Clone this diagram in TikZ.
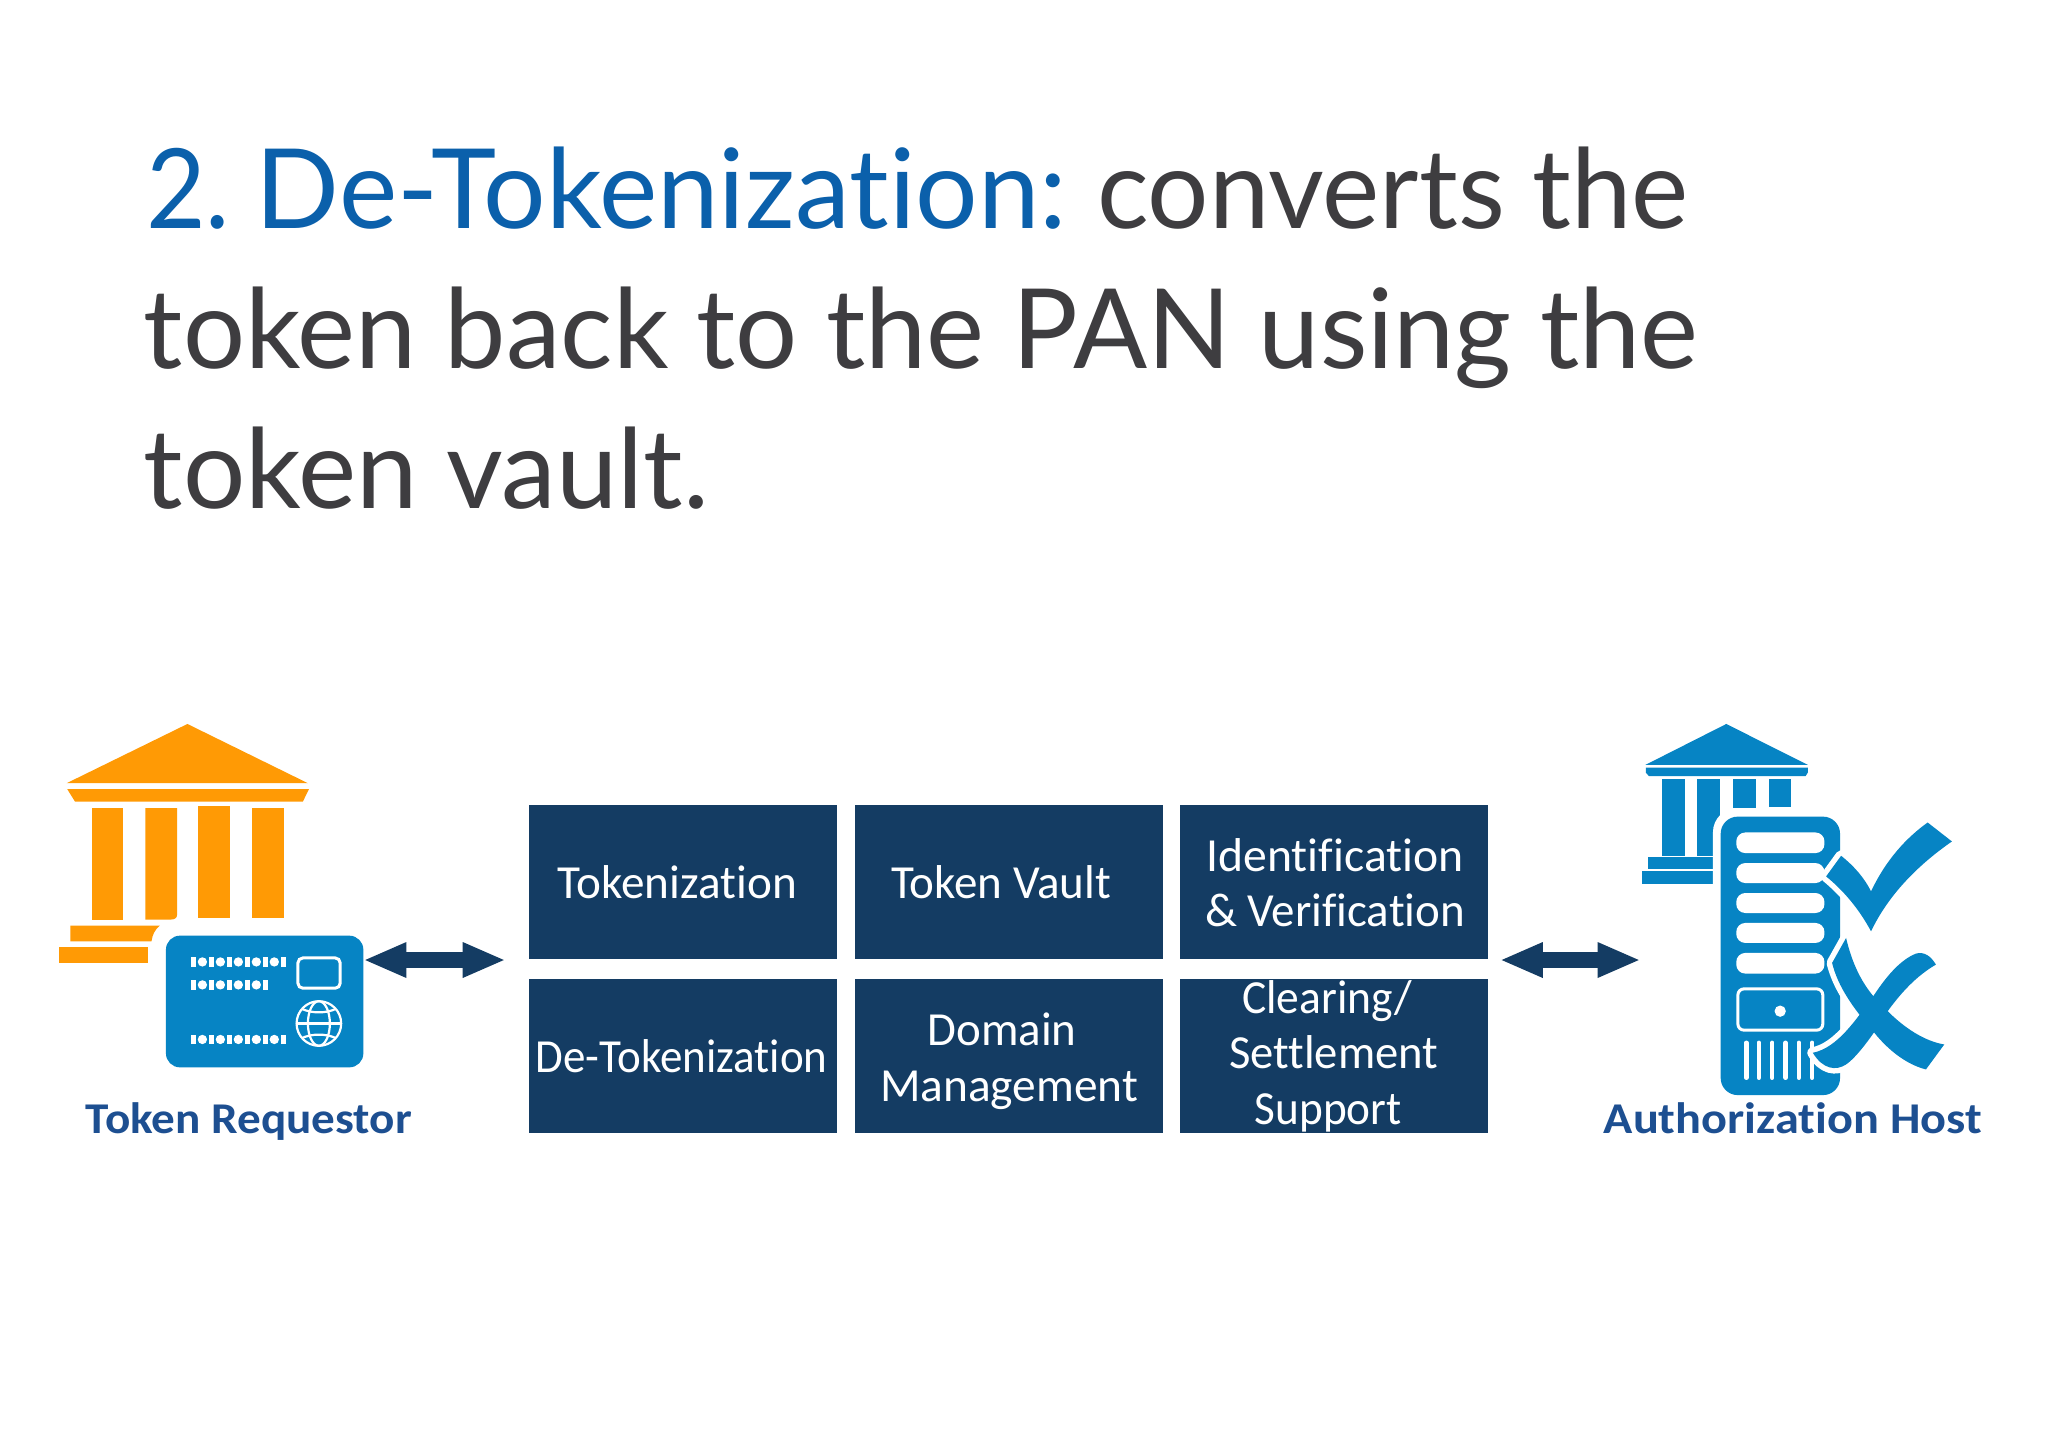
\documentclass[tikz,border=0pt]{standalone}
\usepackage{fontspec}
\usepackage{graphicx}
\usetikzlibrary{arrows.meta}
\setmainfont[Ligatures=NoCommon]{Carlito}
\newfontfamily\titlefont[Ligatures=NoCommon]{Lato}
\newlength\pxu \setlength\pxu{0.01cm}
\newcommand\fitw[2]{\resizebox{#1\pxu}{\height}{#2}}
\definecolor{orangeC}{HTML}{FF9A05}
\definecolor{cardC}{HTML}{0684C4}
\definecolor{navyC}{HTML}{143C63}
\definecolor{greyC}{HTML}{3E3D40}
\definecolor{titleBlue}{HTML}{0B60AB}
\definecolor{labelBlue}{HTML}{1D4F91}
\tikzset{
  txt/.style={anchor=base,inner sep=0pt,outer sep=0pt},
  titletext/.style={txt,font=\titlefont\fontsize{31.5pt}{31.5pt}\selectfont,text=greyC},
  titleblue/.style={titletext,text=titleBlue},
  boxtext/.style={txt,yshift=-0.018cm,font=\fontsize{13.5pt}{13.5pt}\selectfont,text=white},
  hostlabel/.style={txt,font=\bfseries\fontsize{12.5pt}{12.5pt}\selectfont,text=labelBlue},
  tbox/.style={fill=navyC,minimum width=3.074cm,minimum height=1.545cm,inner sep=0pt,outer sep=0pt},
  dbl/.style={draw=navyC,line width=0.157cm,{Triangle[length=0.43cm,width=0.323cm]}-{Triangle[length=0.43cm,width=0.323cm]}},
  iconshift/.style={x=0.0033333cm,y=-0.0033333cm},
  whiteline/.style={draw=white,line width=0.022cm},
  halo/.style={draw=white,line width=0.11cm,line join=round},
}
\begin{document}
\begin{tikzpicture}[x=0.01cm,y=-0.01cm]
\useasboundingbox (0,0) rectangle (2048,1448);
\fill[white] (0,0) rectangle (2048,1448);
% title
\node[titleblue] (t1n) at (188,228.5) {\fitw{84}{2.}};
\node[titleblue] (t1a) at (661.5,228.5) {\fitw{811}{De-Tokenization:}};
\node[titletext] (t1b) at (1393,228.5) {\fitw{592}{converts the}};
\node[titletext] (t2) at (921,368.5) {\fitw{1554}{token back to the PAN using the}};
\node[titletext] (t3) at (426.5,508.5) {\fitw{565}{token vault.}};
% boxes
\node[tbox] (bTok) at (682.8,881.85) {};
\node[tbox] (bVault) at (1008.7,881.85) {};
\node[tbox] (bIdent) at (1334,881.85) {};
\node[tbox] (bDe) at (682.8,1056) {};
\node[tbox] (bDom) at (1008.7,1056) {};
\node[tbox] (bClear) at (1334,1056) {};
\node[boxtext] (lTok) at (677.4,897) {\fitw{239}{Tokenization}};
\node[boxtext] (lVault) at (1001,897) {\fitw{220}{Token Vault}};
\node[boxtext] (lId1) at (1335,869.3) {\fitw{257}{Identification}};
\node[boxtext] (lId2) at (1335,925) {\fitw{260}{\& Verification}};
\node[boxtext] (lDe) at (681.5,1071) {\fitw{292}{De-Tokenization}};
\node[boxtext] (lDom1) at (1002,1044) {\fitw{149}{Domain}};
\node[boxtext] (lDom2) at (1009,1099.3) {\fitw{258}{Management}};
\node[boxtext] (lCl1) at (1327,1011.7) {\fitw{170}{Clearing/}};
\node[boxtext] (lCl2) at (1333.7,1066.7) {\fitw{209}{Settlement}};
\node[boxtext] (lCl3) at (1328.3,1122.3) {\fitw{147}{Support}};
% Token requestor icon
\begin{scope}[shift={(40,700)},iconshift]
  \fill[orangeC] (443,72) -- (805,250) -- (80,250) -- cycle;
  \fill[orangeC] (82,268) -- (808,268) -- (790,305) -- (105,305) -- cycle;
  \fill[orangeC] (155,325) rectangle (250,662);
  \fill[orangeC] (317,325) -- (412,325) -- (412,645) .. controls (412,655) and (405,660) .. (390,660) -- (317,660) -- cycle;
  \fill[orangeC] (476,318) rectangle (572,654);
  \fill[orangeC] (636,325) rectangle (732,654);
  \fill[orangeC] (91,678) -- (360,678) .. controls (345,690) and (338,705) .. (335,725) -- (91,725) -- cycle;
  \fill[orangeC] (57,742) -- (326,742) -- (326,790) -- (57,790) -- cycle;
\end{scope}
\node[fill=cardC,minimum width=1.973cm,minimum height=1.316cm,inner sep=0pt,outer sep=0pt,rounded corners=0.14cm] (card) at (264.65,1001.5) {};
\begin{scope}[shift={(40,700)},iconshift]
  \foreach \yy/\nn in {787/5,856/4,1020/5}{
    \foreach \i in {0,...,\nn}{
      \fill[white] ({453+54*\i},{\yy-14}) rectangle ({469+54*\i},{\yy+14});
    }
    \pgfmathtruncatemacro{\mm}{\nn-1}
    \foreach \i in {0,...,\mm}{
      \fill[white] ({488+54*\i},\yy) circle[radius=14];
    }
  }
  \draw[draw=white,line width=0.03cm,rounded corners=0.05cm] (775,775) rectangle (902,866);
  \draw[whiteline] (838,972) circle[radius=67];
  \draw[whiteline] (838,972) ellipse[x radius=33,y radius=67];
  \draw[whiteline] (771,972) -- (905,972);
  \draw[whiteline] (787,928) .. controls (815,942) and (861,942) .. (889,928);
  \draw[whiteline] (787,1016) .. controls (815,1002) and (861,1002) .. (889,1016);
\end{scope}
% Authorization host icon
\begin{scope}[shift={(1480,700)},iconshift]
  \fill[cardC] (740,72) -- (985,195) -- (497,195) -- cycle;
  \fill[cardC] (498,203) -- (985,203) -- (985,218) -- (978,229) -- (508,229) -- (498,218) -- cycle;
  \fill[cardC] (547,238) rectangle (615,468);
  \fill[cardC] (653,238) rectangle (721,468);
  \fill[cardC] (759,238) rectangle (828,325);
  \fill[cardC] (867,238) rectangle (935,322);
  \fill[cardC] (505,472) rectangle (700,508);
  \fill[cardC] (486,514) rectangle (700,552);
  \fill[white,rounded corners=0.24cm] (700,325) rectangle (1085,1195);
\end{scope}
\node[fill=cardC,minimum width=1.193cm,minimum height=2.783cm,inner sep=0pt,outer sep=0pt,rounded corners=0.17cm] (server) at (1780.35,955.85) {};
\begin{scope}[shift={(1480,700)},iconshift]
  \foreach \ya/\yb in {398/460,490/550,580/640,670/730,760/822}{
    \fill[white,rounded corners=0.09cm] (770,\ya) rectangle (1035,\yb);
  }
  \draw[draw=white,line width=0.03cm,rounded corners=0.06cm] (775,868) rectangle (1030,992);
  \fill[white] (902,935) circle[radius=17];
  \foreach \xx in {800,838,878,918,958,998}{
    \draw[white,line width=0.045cm,line cap=round] (\xx,1030) -- (\xx,1135);
  }
  % halos
  \path[halo]
    (1040,530) -- (1085,468) .. controls (1125,500) and (1155,535) .. (1175,575)
    .. controls (1220,480) and (1280,415) .. (1345,368) -- (1418,425)
    .. controls (1310,500) and (1225,590) .. (1175,695)
    .. controls (1140,630) and (1095,575) .. (1040,530) -- cycle;
  \path[halo]
    (1100,715) .. controls (1125,820) and (1165,880) .. (1225,935)
    .. controls (1275,985) and (1335,1025) .. (1395,1035)
    -- (1340,1110) .. controls (1280,1095) and (1225,1050) .. (1185,1000)
    .. controls (1120,925) and (1075,860) .. (1058,790) -- cycle;
  \path[halo]
    (1310,762) .. controls (1335,755) and (1355,770) .. (1370,795)
    .. controls (1310,830) and (1265,880) .. (1225,935)
    .. controls (1180,1010) and (1130,1075) .. (1100,1095)
    .. controls (1070,1115) and (1030,1110) .. (1000,1060)
    .. controls (1075,1045) and (1130,960) .. (1185,885)
    .. controls (1225,825) and (1265,780) .. (1310,762) -- cycle;
  % check mark
  \fill[cardC]
    (1040,530) -- (1085,468) .. controls (1125,500) and (1155,535) .. (1175,575)
    .. controls (1220,480) and (1280,415) .. (1345,368) -- (1418,425)
    .. controls (1310,500) and (1225,590) .. (1175,695)
    .. controls (1140,630) and (1095,575) .. (1040,530) -- cycle;
  % cross mark
  \fill[cardC]
    (1100,715) .. controls (1125,820) and (1165,880) .. (1225,935)
    .. controls (1275,985) and (1335,1025) .. (1395,1035)
    -- (1340,1110) .. controls (1280,1095) and (1225,1050) .. (1185,1000)
    .. controls (1120,925) and (1075,860) .. (1058,790) -- cycle;
  \fill[cardC]
    (1310,762) .. controls (1335,755) and (1355,770) .. (1370,795)
    .. controls (1310,830) and (1265,880) .. (1225,935)
    .. controls (1180,1010) and (1130,1075) .. (1100,1095)
    .. controls (1070,1115) and (1030,1110) .. (1000,1060)
    .. controls (1075,1045) and (1130,960) .. (1185,885)
    .. controls (1225,825) and (1265,780) .. (1310,762) -- cycle;
\end{scope}
\node[hostlabel] (lReq) at (248.8,1133) {\fitw{326}{Token Requestor}};
\node[hostlabel] (lHost) at (1792.8,1133) {\fitw{378}{Authorization Host}};
% connectors
\coordinate (lev) at (0,960);
\draw[dbl,shorten <=0.0cm,shorten >=0.233cm] (card.east |- lev) -- (bTok.west |- lev);
\draw[dbl,shorten <=0.12cm,shorten >=0.80cm] (bIdent.east |- lev) -- (server.west |- lev);
\end{tikzpicture}
\end{document}
